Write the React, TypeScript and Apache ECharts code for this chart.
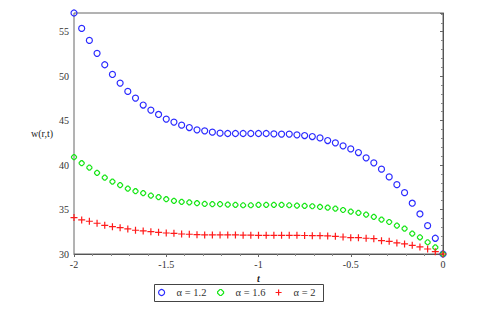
import React, { useEffect, useRef } from "react";
import * as echarts from "echarts";

// abscissa sample grid: 49 points from -2 to 0
const T_VALUES: number[] = Array.from({ length: 49 }, (_, i) => -2 + i / 24);

const SERIES_NAMES = ["α = 1.2", "α = 1.6", "α = 2"];
const SERIES_COLORS = ["#2b2bff", "#19e619", "#ff1a1a"];

const W_ALPHA_12 = [
  57.1, 55.37, 54.02, 52.56, 51.28, 50.19, 49.22, 48.28, 47.53, 46.75,
  46.18, 45.69, 45.17, 44.83, 44.49, 44.22, 43.96, 43.85, 43.7, 43.59,
  43.55, 43.55, 43.55, 43.55, 43.55, 43.55, 43.51, 43.48, 43.48, 43.4,
  43.32, 43.21, 43.05, 42.76, 42.5, 42.16, 41.82, 41.41, 40.81, 40.25,
  39.54, 38.67, 37.8, 36.9, 35.71, 34.5, 33.19, 31.77, 30.0,
];

const W_ALPHA_16 = [
  40.89, 40.21, 39.72, 39.12, 38.59, 38.14, 37.74, 37.35, 37.06, 36.84,
  36.57, 36.39, 36.16, 35.97, 35.86, 35.8, 35.71, 35.63, 35.6, 35.6,
  35.55, 35.52, 35.48, 35.48, 35.52, 35.52, 35.52, 35.52, 35.48, 35.44,
  35.41, 35.37, 35.29, 35.21, 35.1, 34.95, 34.76, 34.62, 34.43, 34.17,
  33.86, 33.6, 33.19, 32.85, 32.29, 31.88, 31.32, 30.75, 30.0,
];

const W_ALPHA_2 = [
  34.1, 33.83, 33.68, 33.46, 33.23, 33.07, 32.96, 32.82, 32.67, 32.59,
  32.51, 32.44, 32.36, 32.33, 32.25, 32.22, 32.17, 32.15, 32.14, 32.14,
  32.14, 32.14, 32.12, 32.12, 32.1, 32.1, 32.1, 32.1, 32.1, 32.1,
  32.08, 32.06, 32.06, 32.03, 31.99, 31.91, 31.84, 31.84, 31.77, 31.72,
  31.5, 31.43, 31.24, 31.13, 30.98, 30.79, 30.56, 30.26, 30.0,
];

const X_TICKS = { min: -2, max: 0, interval: 0.5 };
const Y_TICKS = { min: 30, max: 57.1, interval: 5 };

const SYMBOLS = [
  "circle",
  "path://M1.5 0H2.5L4 1.5V2.5L2.5 4H1.5L0 2.5V1.5Z",
  "path://M0 3H6M3 0V6",
];
const SYMBOL_SIZES = [6, 5, 7];
const LEGEND_LEFTS = [158, 217, 275];

export default function App() {
  const ref = useRef<HTMLDivElement>(null);
  useEffect(() => {
    if (!ref.current) return;
    const chart = echarts.init(ref.current, null, { renderer: "svg" });
    const all = [W_ALPHA_12, W_ALPHA_16, W_ALPHA_2];
    const font = "'Liberation Serif', 'Times New Roman', serif";
    const styleFor = (k: number) => ({
      color: "rgba(0,0,0,0)",
      borderColor: SERIES_COLORS[k],
      borderWidth: 1.2,
      opacity: 1,
    });
    const series = all.map((vals, k) => ({
      type: "scatter",
      name: SERIES_NAMES[k],
      symbol: SYMBOLS[k],
      symbolSize: SYMBOL_SIZES[k],
      data: vals.map((v, i) => [T_VALUES[i], v]),
      itemStyle: styleFor(k),
      emphasis: { disabled: true },
      z: 3,
    }));
    const axisCommon = {
      axisLine: { show: true, lineStyle: { color: "#555", width: 1 } },
      axisTick: { show: true, inside: false, length: 3, lineStyle: { color: "#666" } },
      minorTick: { show: true, splitNumber: 5, length: 2, lineStyle: { color: "#888" } },
      splitLine: { show: false },
      axisLabel: { color: "#333", fontFamily: font, fontSize: 10, margin: 5 },
      nameTextStyle: { color: "#222", fontFamily: font, fontSize: 10 },
    };
    const legends = SERIES_NAMES.map((n, k) => ({
      left: LEGEND_LEFTS[k],
      top: 286.5,
      padding: 0,
      itemWidth: 20,
      itemHeight: 6,
      selectedMode: false,
      textStyle: { color: "#333", fontFamily: font, fontSize: 10.5, lineHeight: 12 },
      data: [{ name: n, icon: SYMBOLS[k], itemStyle: styleFor(k) }],
    }));
    chart.setOption({
      animation: false,
      backgroundColor: "#fff",
      grid: {
        left: 74,
        top: 13,
        width: 369,
        height: 241,
        show: true,
        borderColor: "#666",
        borderWidth: 1,
        containLabel: false,
      },
      xAxis: {
        type: "value",
        ...X_TICKS,
        ...axisCommon,
        name: "t",
        nameLocation: "middle",
        nameGap: 17,
        nameTextStyle: { ...axisCommon.nameTextStyle, fontStyle: "italic", fontWeight: "bold" },
      },
      yAxis: {
        type: "value",
        ...Y_TICKS,
        ...axisCommon,
        axisLabel: { ...axisCommon.axisLabel, showMaxLabel: false },
        name: "w(r,t)",
        nameLocation: "middle",
        nameRotate: 0,
        nameGap: 19,
      },
      legend: legends,
      graphic: [
        {
          type: "rect",
          shape: { x: 154.5, y: 284.5, width: 169, height: 17 },
          style: { fill: "none", stroke: "#444", lineWidth: 1 },
          silent: true,
        },
      ],
      series,
    });
    return () => chart.dispose();
  }, []);
  return (
    <div
      ref={ref}
      style={{ position: "fixed", left: 0, top: 0, width: 491, height: 316, background: "#fff" }}
    />
  );
}
